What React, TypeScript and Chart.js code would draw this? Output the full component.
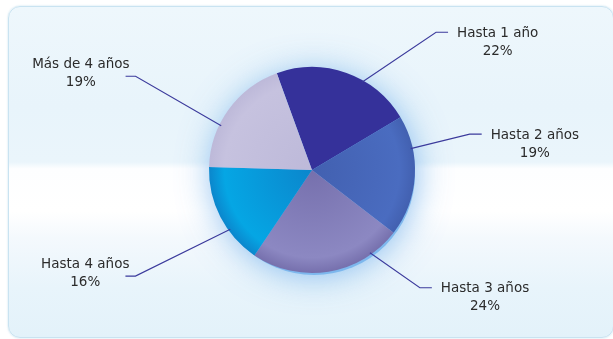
import React, { useEffect, useRef } from "react";
import { Chart, registerables } from "chart.js";

Chart.register(...registerables);

const categories = ["Hasta 1 año", "Hasta 2 años", "Hasta 3 años", "Hasta 4 años", "Más de 4 años"];
const shares = [22, 19, 24, 16, 19];
const sliceColors = ["#35319a", "#4260b0", "#7670ad", "#0b86cc", "#bdb9d9"];
const sliceOuterColors = ["#312d90", "#4a6cc0", "#8c88c2", "#05a6e4", "#c6c2df"];

// label leader layout (degrees relative to slice middle, radius multiples)
const anchorOffsets = [10, -15.6, -25.8, -8.8, -9.8];
const elbowOffsets = [22.4, -16.2, -33.3, -3.8, -7.8];
const elbowRadii = [1.8, 1.57, 1.55, 2.0, 1.94];

const FONT = "13.5px 'DejaVu Sans', sans-serif";

const glowPlugin = {
  id: "glow",
  beforeDatasetsDraw(chart: any) {
    const meta = chart.getDatasetMeta(0);
    const a = meta.data[0];
    if (!a) return;
    const ctx = chart.ctx;
    ctx.save();
    ctx.beginPath();
    ctx.arc(a.x + 2, a.y + 4, a.outerRadius - 2, 0, Math.PI * 2);
    ctx.fillStyle = "rgba(110,175,235,0.8)";
    ctx.shadowColor = "rgba(95,165,232,0.95)";
    ctx.shadowBlur = 34;
    ctx.fill();
    ctx.restore();
  },
};

const labelPlugin = {
  id: "leaderLabels",
  afterDatasetsDraw(chart: any) {
    const meta = chart.getDatasetMeta(0);
    const ctx = chart.ctx;
    const vals = chart.data.datasets[0].data as number[];
    ctx.save();
    meta.data.forEach((arc: any, i: number) => {
      const cx = arc.x, cy = arc.y, r = arc.outerRadius;
      const mid = (arc.startAngle + arc.endAngle) / 2;
      const d2r = Math.PI / 180;
      const aa = mid + anchorOffsets[i] * d2r;
      const ea = mid + elbowOffsets[i] * d2r;
      const ax = cx + Math.cos(aa) * (r - 2);
      const ay = cy + Math.sin(aa) * (r - 2);
      const ex = cx + Math.cos(ea) * r * elbowRadii[i];
      const ey = cy + Math.sin(ea) * r * elbowRadii[i];
      const right = ex > cx;
      const tx = ex + (right ? 12 : -10);
      ctx.beginPath();
      ctx.moveTo(ax, ay);
      ctx.lineTo(ex, ey);
      ctx.lineTo(tx, ey);
      ctx.strokeStyle = "#3b3a9c";
      ctx.lineWidth = 1.1;
      ctx.stroke();

      ctx.font = FONT;
      ctx.fillStyle = "#2b2b2b";
      ctx.textBaseline = "middle";
      ctx.textAlign = "center";
      const name = chart.data.labels[i];
      const pct = vals[i] + "%";
      const w = ctx.measureText(name).width;
      let centerX: number, row1: number;
      if (right) {
        centerX = tx + 9 + w / 2;
        row1 = ey + 1;
      } else {
        centerX = tx + 4 - w / 2;
        row1 = ey - 12;
      }
      ctx.fillText(name, centerX, row1);
      ctx.fillText(pct, centerX, row1 + 18);
    });
    ctx.restore();
  },
};

export default function App() {
  const ref = useRef<HTMLCanvasElement | null>(null);
  useEffect(() => {
    if (!ref.current) return;
    const chart = new Chart(ref.current, {
      type: "pie",
      data: {
        labels: categories,
        datasets: [
          {
            data: shares,
            backgroundColor: (c: any) => {
              const i = c.dataIndex;
              const ch = c.chart;
              const a = ch.getDatasetMeta(0).data[0];
              if (!a || !a.outerRadius) return sliceColors[i];
              const g = ch.ctx.createRadialGradient(a.x, a.y, 0, a.x, a.y, a.outerRadius);
              g.addColorStop(0, sliceColors[i]);
              g.addColorStop(0.85, sliceOuterColors[i]);
              g.addColorStop(1, sliceColors[i]);
              return g;
            },
            borderWidth: 0,
          },
        ],
      },
      options: {
        animation: false,
        responsive: false,
        rotation: -20,
        layout: { padding: { left: 209, right: 198, top: 67, bottom: 66 } },
        plugins: { legend: { display: false }, tooltip: { enabled: false } },
      },
      plugins: [glowPlugin, labelPlugin],
    });
    return () => chart.destroy();
  }, []);

  return (
    <div style={{ position: "absolute", left: 0, top: 0, width: 613, height: 339, background: "#ffffff", overflow: "hidden" }}>
      <div
        style={{
          position: "absolute",
          left: 8,
          top: 6,
          width: 604,
          height: 330,
          borderRadius: 12,
          border: "1px solid #c9e3f1",
          background:
            "linear-gradient(180deg, #eef7fc 0%, #e8f4fb 30%, #eaf5fb 47%, #fdfeff 49%, #ffffff 62%, #f4f9fd 70%, #e8f4fb 85%, #e3f2fa 100%)",
          boxShadow: "0 0 2px rgba(150,200,225,0.6)",
        }}
      />
      <canvas ref={ref} width={613} height={339} style={{ position: "absolute", left: 0, top: 0, width: 613, height: 339 }} />
    </div>
  );
}
